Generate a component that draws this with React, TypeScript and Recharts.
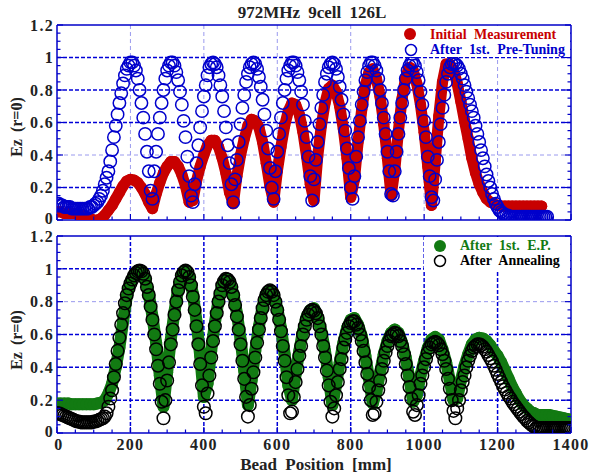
import React from "react";
import { ScatterChart, Scatter, XAxis, YAxis, CartesianGrid } from "recharts";

// bead positions: ring series sampled every 5 mm, filled series every 10 mm (from 0 mm)
const FINE_STEP = 5;
const COARSE_STEP = 10;

const X_TICKS = [0, 50, 100, 150, 200, 250, 300, 350, 400, 450, 500, 550, 600, 650, 700, 750, 800, 850, 900, 950, 1000, 1050, 1100, 1150, 1200, 1250, 1300, 1350, 1400];
const X_LABELS = [0, 200, 400, 600, 800, 1000, 1200, 1400];
const Y_TICKS = [0, 0.05, 0.1, 0.15, 0.2, 0.25, 0.3, 0.35, 0.4, 0.45, 0.5, 0.55, 0.6, 0.65, 0.7, 0.75, 0.8, 0.85, 0.9, 0.95, 1, 1.05, 1.1, 1.15, 1.2];
const Y_LABELS = [0, 0.2, 0.4, 0.6, 0.8, 1, 1.2];

// top panel
const initialEz = [
  0.05, 0.05, 0.04, 0.04, 0.04, 0.04, 0.03, 0.03, 0.02, 0.01,
  0.0, 0.0, 0.01, 0.03, 0.06, 0.09, 0.13, 0.17, 0.21, 0.24,
  0.25, 0.245, 0.23, 0.2, 0.16, 0.11, 0.07, 0.16, 0.23, 0.29,
  0.33, 0.36, 0.36, 0.33, 0.28, 0.21, 0.11, 0.12, 0.24, 0.33,
  0.4, 0.46, 0.49, 0.49, 0.45, 0.38, 0.29, 0.17, 0.1, 0.27,
  0.4, 0.5, 0.58, 0.62, 0.61, 0.57, 0.48, 0.35, 0.21, 0.11,
  0.3, 0.45, 0.58, 0.67, 0.72, 0.71, 0.65, 0.54, 0.39, 0.22,
  0.12, 0.39, 0.58, 0.72, 0.81, 0.83, 0.79, 0.7, 0.56, 0.38,
  0.14, 0.25, 0.48, 0.68, 0.83, 0.91, 0.93, 0.87, 0.76, 0.59,
  0.38, 0.15, 0.31, 0.55, 0.75, 0.88, 0.94, 0.92, 0.84, 0.71,
  0.54, 0.33, 0.09, 0.36, 0.64, 0.85, 0.96, 0.96, 0.92, 0.84,
  0.73, 0.61, 0.5, 0.38, 0.29, 0.22, 0.17, 0.13, 0.11, 0.1,
  0.09, 0.085, 0.085, 0.085, 0.085, 0.085, 0.085, 0.085, 0.085, 0.085,
  0.085, 0.085, 0.085,
];

const preTuningEz = [
  0.1, 0.1, 0.09, 0.09, 0.08, 0.08, 0.08, 0.08, 0.07, 0.07, 0.07, 0.07, 0.07, 0.07, 0.07, 0.07, 0.07, 0.07, 0.08, 0.08,
  0.09, 0.1, 0.11, 0.13, 0.15, 0.18, 0.22, 0.26, 0.3, 0.36, 0.43, 0.51, 0.58, 0.65, 0.72, 0.78, 0.84, 0.89, 0.93, 0.95,
  0.97, 0.97, 0.95, 0.92, 0.87, 0.8, 0.72, 0.63, 0.53, 0.42, 0.3, 0.18, 0.13, 0.3, 0.42, 0.53, 0.63, 0.72, 0.8, 0.87,
  0.92, 0.95, 0.97, 0.97, 0.95, 0.91, 0.86, 0.79, 0.71, 0.61, 0.51, 0.39, 0.27, 0.15, 0.11, 0.22, 0.35, 0.46, 0.57, 0.67,
  0.76, 0.83, 0.89, 0.94, 0.96, 0.97, 0.96, 0.94, 0.89, 0.83, 0.76, 0.67, 0.57, 0.46, 0.35, 0.22, 0.11, 0.25, 0.37, 0.48,
  0.59, 0.69, 0.77, 0.85, 0.9, 0.94, 0.96, 0.97, 0.96, 0.93, 0.88, 0.82, 0.74, 0.65, 0.55, 0.44, 0.32, 0.2, 0.13, 0.3,
  0.42, 0.53, 0.63, 0.72, 0.8, 0.87, 0.92, 0.95, 0.97, 0.97, 0.95, 0.91, 0.86, 0.79, 0.71, 0.61, 0.51, 0.39, 0.27, 0.12,
  0.25, 0.37, 0.48, 0.59, 0.69, 0.77, 0.85, 0.9, 0.94, 0.96, 0.97, 0.96, 0.93, 0.88, 0.82, 0.74, 0.65, 0.55, 0.44, 0.32,
  0.2, 0.13, 0.27, 0.39, 0.51, 0.61, 0.71, 0.79, 0.86, 0.91, 0.95, 0.97, 0.97, 0.95, 0.92, 0.87, 0.8, 0.72, 0.63, 0.53,
  0.42, 0.3, 0.16, 0.15, 0.3, 0.42, 0.53, 0.63, 0.72, 0.8, 0.87, 0.92, 0.95, 0.97, 0.97, 0.95, 0.91, 0.86, 0.79, 0.71,
  0.61, 0.51, 0.39, 0.27, 0.14, 0.12, 0.25, 0.37, 0.48, 0.59, 0.69, 0.77, 0.85, 0.9, 0.94, 0.96, 0.97, 0.96, 0.95, 0.93,
  0.9, 0.87, 0.83, 0.79, 0.75, 0.71, 0.67, 0.63, 0.58, 0.53, 0.48, 0.43, 0.38, 0.33, 0.28, 0.24, 0.2, 0.16, 0.13, 0.1,
  0.08, 0.06, 0.05, 0.04, 0.03, 0.03, 0.025, 0.02, 0.02, 0.02, 0.02, 0.02, 0.02, 0.02, 0.02, 0.02, 0.02, 0.02, 0.02, 0.02,
  0.02, 0.02, 0.02, 0.02, 0.02, 0.02, 0.02, 0.02,
];

// bottom panel
const afterEpEz = [
  0.18, 0.18, 0.18, 0.18, 0.175, 0.175, 0.175, 0.175, 0.175, 0.175,
  0.175, 0.18, 0.185, 0.2, 0.24, 0.3, 0.4, 0.52, 0.68, 0.83,
  0.92, 0.965, 0.99, 0.985, 0.94, 0.85, 0.71, 0.55, 0.35, 0.16,
  0.37, 0.57, 0.74, 0.88, 0.96, 0.99, 0.95, 0.85, 0.68, 0.47,
  0.22, 0.3, 0.5, 0.67, 0.81, 0.9, 0.94, 0.92, 0.85, 0.73,
  0.57, 0.38, 0.17, 0.32, 0.5, 0.65, 0.77, 0.85, 0.87, 0.84,
  0.76, 0.64, 0.48, 0.29, 0.2, 0.36, 0.5, 0.62, 0.71, 0.75,
  0.76, 0.71, 0.62, 0.5, 0.34, 0.17, 0.29, 0.43, 0.55, 0.64,
  0.69, 0.7, 0.66, 0.59, 0.47, 0.33, 0.18, 0.25, 0.37, 0.48,
  0.56, 0.61, 0.63, 0.61, 0.55, 0.46, 0.33, 0.19, 0.23, 0.35,
  0.44, 0.52, 0.57, 0.585, 0.57, 0.51, 0.43, 0.32, 0.2, 0.21,
  0.32, 0.41, 0.48, 0.54, 0.57, 0.58, 0.575, 0.56, 0.535, 0.5,
  0.47, 0.43, 0.38, 0.33, 0.28, 0.24, 0.2, 0.17, 0.15, 0.13,
  0.12, 0.11, 0.11, 0.11, 0.11, 0.105, 0.1, 0.095, 0.09, 0.085,
  0.08,
];

const annealingEz = [
  0.12, 0.12, 0.115, 0.11, 0.105, 0.1, 0.095, 0.09, 0.085, 0.08, 0.075, 0.07, 0.07, 0.065, 0.065, 0.065, 0.065, 0.065, 0.065, 0.065,
  0.07, 0.07, 0.075, 0.08, 0.085, 0.09, 0.1, 0.12, 0.16, 0.21, 0.26, 0.34, 0.42, 0.5, 0.58, 0.66, 0.73, 0.79, 0.84, 0.88,
  0.91, 0.935, 0.96, 0.975, 0.985, 0.99, 0.985, 0.97, 0.94, 0.89, 0.84, 0.77, 0.69, 0.6, 0.51, 0.41, 0.3, 0.19, 0.09, 0.2,
  0.32, 0.43, 0.54, 0.63, 0.72, 0.8, 0.87, 0.92, 0.96, 0.98, 0.99, 0.98, 0.95, 0.9, 0.83, 0.75, 0.65, 0.54, 0.42, 0.29,
  0.16, 0.12, 0.24, 0.35, 0.46, 0.56, 0.65, 0.73, 0.8, 0.85, 0.9, 0.925, 0.94, 0.935, 0.92, 0.89, 0.84, 0.78, 0.71, 0.63,
  0.54, 0.44, 0.33, 0.22, 0.1, 0.17, 0.27, 0.37, 0.46, 0.55, 0.63, 0.7, 0.76, 0.81, 0.84, 0.86, 0.87, 0.86, 0.84, 0.8,
  0.75, 0.69, 0.62, 0.53, 0.44, 0.34, 0.23, 0.12, 0.13, 0.22, 0.31, 0.39, 0.47, 0.53, 0.6, 0.65, 0.69, 0.72, 0.74, 0.75,
  0.745, 0.73, 0.7, 0.65, 0.6, 0.53, 0.46, 0.38, 0.29, 0.19, 0.1, 0.15, 0.23, 0.31, 0.39, 0.45, 0.52, 0.57, 0.61, 0.65,
  0.67, 0.68, 0.68, 0.66, 0.64, 0.6, 0.56, 0.5, 0.43, 0.36, 0.28, 0.2, 0.11, 0.12, 0.19, 0.26, 0.32, 0.39, 0.44, 0.49,
  0.53, 0.56, 0.59, 0.6, 0.61, 0.605, 0.59, 0.56, 0.53, 0.48, 0.42, 0.35, 0.28, 0.21, 0.13, 0.11, 0.17, 0.23, 0.3, 0.35,
  0.4, 0.45, 0.49, 0.52, 0.54, 0.55, 0.555, 0.55, 0.535, 0.51, 0.48, 0.44, 0.39, 0.33, 0.27, 0.2, 0.135, 0.09, 0.15, 0.2,
  0.26, 0.31, 0.35, 0.4, 0.44, 0.47, 0.5, 0.52, 0.53, 0.54, 0.54, 0.535, 0.525, 0.51, 0.495, 0.475, 0.455, 0.435, 0.41, 0.385,
  0.36, 0.335, 0.31, 0.285, 0.265, 0.245, 0.225, 0.21, 0.19, 0.175, 0.16, 0.145, 0.13, 0.115, 0.1, 0.09, 0.075, 0.065, 0.055, 0.045,
  0.04, 0.03, 0.03, 0.03, 0.03, 0.03, 0.03, 0.03, 0.03, 0.03, 0.03, 0.03, 0.03, 0.03, 0.03, 0.03, 0.03, 0.03, 0.03, 0.03,
  0.03,
];

const RED = "#c80000";
const BLUE = "#0000cc";
const GREEN = "#127a12";
const FRAME = "#0000c8";
const FONT = '"Liberation Serif", "Times New Roman", serif';

const toPoints = (values: number[], step: number) => values.map((ez, i) => ({ pos: i * step, ez }));

const isMajorY = (v: number) => Y_LABELS.some((m) => Math.abs(m - v) < 1e-6);
const fmtY = (v: number) => (Math.abs(v) < 1e-6 ? "0" : Math.abs(v - 1) < 1e-6 ? "1" : v.toFixed(1));

const labelStyle = { fontFamily: FONT, fontWeight: 700, fontSize: 16, letterSpacing: 1.3, fill: "#222" };

const leftTick = (props: any) => {
  const { x, y, payload } = props;
  const major = isMajorY(payload.value);
  return (
    <g>
      <line x1={x} y1={y} x2={x + (major ? 6 : 3.5)} y2={y} stroke={FRAME} strokeWidth={1.2} />
      {major && (
        <text x={x - 3} y={payload.value === 0 ? y - 2 : y} dy="0.36em" textAnchor="end" style={labelStyle}>
          {fmtY(payload.value)}
        </text>
      )}
    </g>
  );
};

const rightTick = (props: any) => {
  const { x, y, payload } = props;
  const major = isMajorY(payload.value);
  return <line x1={x} y1={y} x2={x - (major ? 6 : 3.5)} y2={y} stroke={FRAME} strokeWidth={1.2} />;
};

const bottomTick = (showLabels: boolean) => (props: any) => {
  const { x, y, payload } = props;
  const major = X_LABELS.includes(payload.value);
  return (
    <g>
      <line x1={x} y1={y} x2={x} y2={y - (major ? 6 : 3.5)} stroke={FRAME} strokeWidth={1.2} />
      {showLabels && major && (
        <text x={payload.value === 0 ? x + 2 : x} y={y + 17} textAnchor="middle" style={labelStyle}>
          {payload.value}
        </text>
      )}
    </g>
  );
};

const topTick = (props: any) => {
  const { x, y, payload } = props;
  const major = X_LABELS.includes(payload.value);
  return <line x1={x} y1={y} x2={x} y2={y + (major ? 6 : 3.5)} stroke={FRAME} strokeWidth={1.2} />;
};

const disc = (color: string, r: number) => (p: any) => <circle cx={p.cx} cy={p.cy} r={r} fill={color} />;
const ring = (color: string, r: number) => (p: any) => (
  <circle cx={p.cx} cy={p.cy} r={r} fill="none" stroke={color} strokeWidth={1.5} />
);

function Panel({
  top,
  bottom,
  filled,
  rings,
  filledColor,
  ringColor,
  darkY,
  lightY,
  darkVertical,
  showXLabels,
  discR,
  ringR,
}: any) {
  const vertical = [200, 400, 600, 800, 1000, 1200];
  return (
    <div style={{ position: "absolute", left: 0, top: 0 }}>
      <ScatterChart width={589} height={475} margin={{ top, right: 17, bottom, left: 56 }}>
        <CartesianGrid
          horizontalValues={lightY}
          verticalValues={darkVertical ? [] : vertical}
          vertical={!darkVertical}
          stroke="#9a9aee"
          strokeDasharray="4 3"
          strokeWidth={1}
        />
        <CartesianGrid
          horizontalValues={darkY}
          verticalValues={darkVertical ? vertical : []}
          vertical={darkVertical}
          stroke="#0000d8"
          strokeDasharray="4 2"
          strokeWidth={1.5}
        />
        <XAxis
          dataKey="pos"
          type="number"
          domain={[0, 1400]}
          ticks={X_TICKS}
          interval={0}
          height={1}
          tickSize={0}
          tickMargin={0}
          tickLine={false}
          axisLine={{ stroke: FRAME, strokeWidth: 1.5 }}
          tick={bottomTick(showXLabels)}
          allowDataOverflow
        />
        <XAxis
          xAxisId="top"
          orientation="top"
          type="number"
          domain={[0, 1400]}
          ticks={X_TICKS}
          interval={0}
          height={1}
          tickSize={0}
          tickMargin={0}
          tickLine={false}
          axisLine={{ stroke: FRAME, strokeWidth: 1.5 }}
          tick={topTick}
          allowDataOverflow
        />
        <YAxis
          dataKey="ez"
          type="number"
          domain={[0, 1.2]}
          ticks={Y_TICKS}
          interval={0}
          width={1}
          tickSize={0}
          tickMargin={0}
          tickLine={false}
          axisLine={{ stroke: FRAME, strokeWidth: 1.5 }}
          tick={leftTick}
          allowDataOverflow
        />
        <YAxis
          yAxisId="right"
          orientation="right"
          type="number"
          domain={[0, 1.2]}
          ticks={Y_TICKS}
          interval={0}
          width={1}
          tickSize={0}
          tickMargin={0}
          tickLine={false}
          axisLine={{ stroke: FRAME, strokeWidth: 1.5 }}
          tick={rightTick}
          allowDataOverflow
        />
        <Scatter
          data={filled}
          isAnimationActive={false}
          line={{ stroke: filledColor, strokeWidth: discR * 2, strokeLinejoin: "round", strokeLinecap: "round" }}
          lineType="joint"
          shape={disc(filledColor, discR)}
        />
        <Scatter data={rings} isAnimationActive={false} shape={ring(ringColor, ringR)} />
      </ScatterChart>
    </div>
  );
}

export default function App() {
  const textStyle = { fontFamily: FONT, fontWeight: 700 } as const;
  return (
    <div style={{ position: "absolute", left: 0, top: 0, width: 589, height: 475, background: "#fff", overflow: "hidden" }}>
      <Panel
        top={24}
        bottom={254}
        filled={toPoints(initialEz, COARSE_STEP)}
        rings={toPoints(preTuningEz, FINE_STEP)}
        filledColor={RED}
        ringColor={BLUE}
        darkY={[0.2, 0.6, 0.8, 1]}
        lightY={[0.4]}
        darkVertical={false}
        showXLabels={false}
        discR={5.6}
        ringR={6.2}
      />
      <Panel
        top={235}
        bottom={41}
        filled={toPoints(afterEpEz, COARSE_STEP)}
        rings={toPoints(annealingEz, FINE_STEP)}
        filledColor={GREEN}
        ringColor="#000"
        darkY={[0.2, 0.4, 0.6, 1]}
        lightY={[0.8]}
        darkVertical={true}
        showXLabels={true}
        discR={6}
        ringR={6.3}
      />
      <svg width={589} height={475} style={{ position: "absolute", left: 0, top: 0, pointerEvents: "none" }}>
        <text x={312} y={18} textAnchor="middle" style={{ ...textStyle, fontSize: 17, wordSpacing: 4, fill: "#222" }}>
          972MHz 9cell 126L
        </text>
        <text x={22} y={127} transform="rotate(-90 22 127)" textAnchor="middle" style={{ ...textStyle, fontSize: 16, wordSpacing: 3, fill: "#222" }}>
          Ez (r=0)
        </text>
        <text x={22} y={340} transform="rotate(-90 22 340)" textAnchor="middle" style={{ ...textStyle, fontSize: 16, wordSpacing: 3, fill: "#222" }}>
          Ez (r=0)
        </text>
        <text x={316} y={470} textAnchor="middle" style={{ ...textStyle, fontSize: 17, wordSpacing: 4, fill: "#222" }}>
          Bead Position [mm]
        </text>

        <rect x={395} y={26} width={175} height={31} fill="#fff" />
        <circle cx={410} cy={34} r={6} fill={RED} />
        <circle cx={411} cy={50} r={5.5} fill="none" stroke={BLUE} strokeWidth={1.5} />
        <text x={430} y={39} style={{ ...textStyle, fontSize: 14, wordSpacing: 4, fill: RED }}>
          Initial Measurement
        </text>
        <text x={430} y={54} style={{ ...textStyle, fontSize: 14, wordSpacing: 4, fill: BLUE }}>
          After 1st. Pre-Tuning
        </text>

        <rect x={424} y={237} width={146} height={33} fill="#fff" />
        <circle cx={440} cy={246} r={6} fill={GREEN} />
        <circle cx={440} cy={261} r={5.5} fill="none" stroke="#000" strokeWidth={1.5} />
        <text x={460} y={250} style={{ ...textStyle, fontSize: 14, wordSpacing: 4, fill: GREEN }}>
          After 1st. E.P.
        </text>
        <text x={460} y={265} style={{ ...textStyle, fontSize: 14, wordSpacing: 4, fill: "#000" }}>
          After Annealing
        </text>
      </svg>
    </div>
  );
}
